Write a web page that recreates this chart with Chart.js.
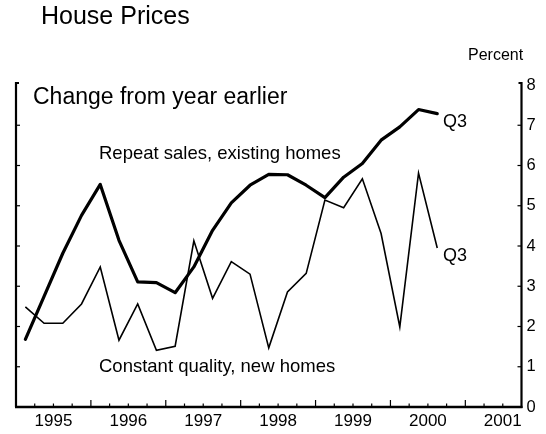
<!DOCTYPE html>
<html>
<head>
<meta charset="utf-8">
<script src="https://cdn.jsdelivr.net/npm/chart.js@4/dist/chart.umd.min.js"></script>
<style>
html,body{margin:0;padding:0;background:#fff;}
#wrap{width:546px;height:434px;position:relative;}
canvas{display:block;}
</style>
</head>
<body>
<div id="wrap"><canvas id="c" width="546" height="434"></canvas></div>
<script>
// ---- Data ----
const quarters = ['1995Q1','1995Q2','1995Q3','1995Q4','1996Q1','1996Q2','1996Q3','1996Q4',
                  '1997Q1','1997Q2','1997Q3','1997Q4','1998Q1','1998Q2','1998Q3','1998Q4',
                  '1999Q1','1999Q2','1999Q3','1999Q4','2000Q1','2000Q2','2000Q3'];
const repeatSales = [1.68, 2.75, 3.82, 4.76, 5.53, 4.14, 3.11, 3.09,
                     2.84, 3.48, 4.39, 5.07, 5.51, 5.78, 5.77, 5.51,
                     5.20, 5.71, 6.05, 6.63, 6.96, 7.39, 7.29];
const constantQuality = [2.49, 2.08, 2.08, 2.56, 3.48, 1.66, 2.56, 1.41,
                         1.51, 4.13, 2.70, 3.61, 3.30, 1.47, 2.86, 3.32,
                         5.14, 4.95, 5.67, 4.31, 1.99, 5.81, 3.95];
const yearLabels = [1995, 1996, 1997, 1998, 1999, 2000, 2001];
const yTicks = [0, 1, 2, 3, 4, 5, 6, 7, 8];

const FAM = '"Liberation Sans", Arial, Helvetica, sans-serif';

function qx(q) { // quarter midpoint on a decimal-year axis
  const y = parseInt(q.slice(0, 4), 10), n = parseInt(q.slice(5), 10);
  return y + (n - 0.5) / 4;
}

const axesPlugin = {
  id: 'axesPlugin',
  afterDraw(chart) {
    const c = chart.ctx, a = chart.chartArea;
    const xs = chart.scales.x, ys = chart.scales.y;
    const L = a.left, R = a.right, B = a.bottom;
    const T = ys.getPixelForValue(8) - 2;
    c.save();
    c.strokeStyle = '#000';
    c.lineCap = 'butt';
    // left axis
    c.lineWidth = 2.2;
    c.beginPath(); c.moveTo(L, B); c.lineTo(L, T); c.lineTo(L + 3, T); c.stroke();
    // right axis
    c.beginPath(); c.moveTo(R, B + 1); c.lineTo(R, T); c.lineTo(R - 3, T); c.stroke();
    // bottom axis
    c.lineWidth = 2.6;
    c.beginPath(); c.moveTo(L - 1, B); c.lineTo(R + 1, B); c.stroke();
    // y ticks (inward)
    c.lineWidth = 1.2;
    yTicks.forEach(v => {
      const y = ys.getPixelForValue(v);
      if (v === 0 || v === 8) return;
      c.beginPath(); c.moveTo(L, y); c.lineTo(L + 4, y); c.stroke();
      c.beginPath(); c.moveTo(R, y); c.lineTo(R - 4, y); c.stroke();
    });
    // x ticks: quarterly minor, yearly major (inward)
    for (let k = 1; k < 27; k++) {
      const v = xs.min + k * 0.25;
      const x = xs.getPixelForValue(v);
      const major = Math.abs(v - Math.round(v)) < 1e-6;
      c.beginPath(); c.moveTo(x, B); c.lineTo(x, B - (major ? 7 : 3.5)); c.stroke();
    }
    // texts
    c.fillStyle = '#000';
    c.textBaseline = 'alphabetic';
    c.textAlign = 'left';
    c.font = '25px ' + FAM;
    c.fillText('House Prices', 41, 24);
    c.font = '16px ' + FAM;
    c.fillText('Percent', 468, 60);
    c.font = '23px ' + FAM;
    c.fillText('Change from year earlier', 33, 104);
    c.font = '18.5px ' + FAM;
    c.fillText('Repeat sales, existing homes', 99, 158.5);
    c.fillText('Constant quality, new homes', 99, 372);
    c.font = '18px ' + FAM;
    c.fillText('Q3', 443, 127);
    c.fillText('Q3', 443, 261);
    c.restore();
  }
};

new Chart(document.getElementById('c').getContext('2d'), {
  type: 'line',
  data: {
    datasets: [
      {
        label: 'Repeat sales, existing homes',
        data: quarters.map((q, i) => ({ x: qx(q), y: repeatSales[i] })),
        borderColor: '#000', borderWidth: 3.2, pointRadius: 0, tension: 0,
        borderJoinStyle: 'round', borderCapStyle: 'round', fill: false
      },
      {
        label: 'Constant quality, new homes',
        data: quarters.map((q, i) => ({ x: qx(q), y: constantQuality[i] })),
        borderColor: '#000', borderWidth: 1.6, pointRadius: 0, tension: 0,
        borderJoinStyle: 'miter', fill: false
      }
    ]
  },
  options: {
    responsive: false,
    animation: false,
    maintainAspectRatio: false,
    layout: { padding: { left: 16, top: 85, right: 0, bottom: 0 } },
    plugins: { legend: { display: false }, tooltip: { enabled: false } },
    scales: {
      x: {
        type: 'linear', min: 1995, max: 2001.75,
        grid: { display: false, drawTicks: false },
        border: { display: false },
        afterBuildTicks: s => { s.ticks = yearLabels.map(y => ({ value: y + 0.5 })); },
        ticks: {
          callback: v => String(Math.floor(v)),
          font: { size: 17, family: FAM }, color: '#000',
          padding: 4, maxRotation: 0, minRotation: 0, autoSkip: false
        },
        afterFit: s => { s.height = 27; }
      },
      y: {
        position: 'right', min: 0, max: 8,
        grid: { display: false, drawTicks: false },
        border: { display: false },
        afterBuildTicks: s => { s.ticks = yTicks.map(v => ({ value: v })); },
        ticks: {
          font: { size: 16.5, family: FAM }, color: '#000',
          padding: 5, autoSkip: false
        },
        afterFit: s => { s.width = 24.5; }
      }
    }
  },
  plugins: [axesPlugin]
});
</script>
</body>
</html>
